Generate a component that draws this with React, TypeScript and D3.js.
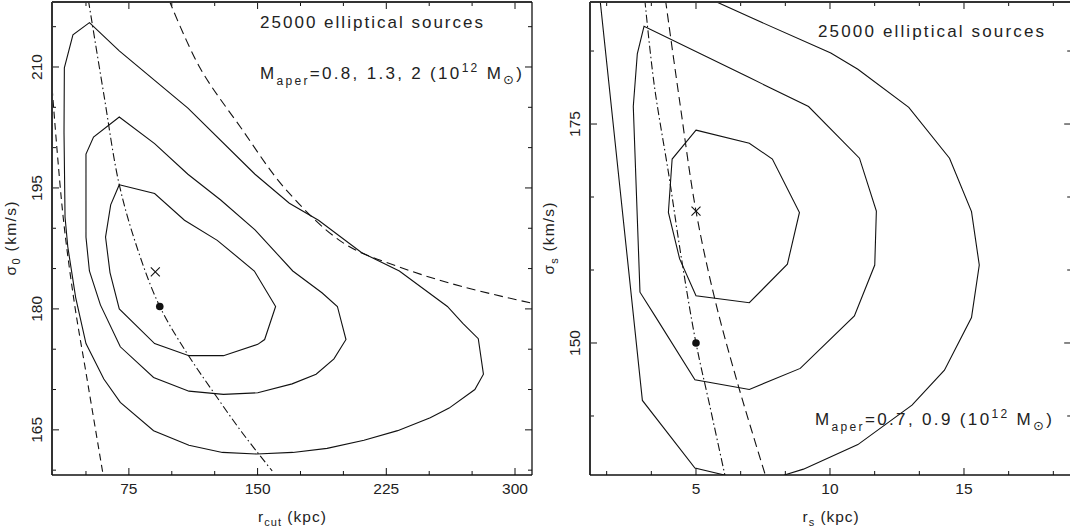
import React from 'react';
import * as d3 from 'd3';

// ---------- Left panel data (r_cut [kpc], sigma_0 [km/s]) ----------
const leftXMajor = [75, 150, 225, 300];
const leftXMinor = [50, 75, 100, 125, 150, 175, 200, 225, 250, 275, 300];
const leftYMajor = [165, 180, 195, 210];
const leftYMinor = [160, 165, 170, 175, 180, 185, 190, 195, 200, 205, 210, 215];

const leftInner: [number, number][] = [
  [69.4, 195.4], [90.0, 194.3], [107.4, 191.0], [126.5, 188.5], [148.1, 184.7],
  [160.5, 180.3], [154.1, 176.2], [150.1, 175.6], [130.1, 174.2], [110.0, 174.2],
  [90.0, 175.7], [69.4, 180.0], [64.0, 184.5], [61.4, 188.9], [64.4, 192.9],
];
const leftMiddle: [number, number][] = [
  [69.4, 203.8], [90.0, 200.5], [109.4, 196.7], [128.5, 193.5], [148.5, 189.8],
  [170.5, 184.7], [187.5, 182.0], [196.5, 180.3], [201.5, 176.2], [194.5, 173.8],
  [184.1, 171.9], [170.1, 170.7], [150.1, 169.6], [130.1, 169.4], [110.0, 169.8],
  [89.4, 171.5], [70.0, 175.3], [58.4, 180.5], [52.0, 184.7], [50.0, 188.9],
  [50.0, 199.2], [54.4, 201.3],
];
const leftOuter: [number, number][] = [
  [52.0, 215.5], [69.4, 212.0], [109.4, 204.9], [148.5, 196.7], [168.5, 193.1],
  [185.5, 191.0], [210.5, 187.0], [232.6, 184.7], [260.6, 180.3], [269.6, 178.2],
  [278.6, 176.3], [281.6, 171.9], [276.6, 170.0], [261.6, 167.7], [250.6, 166.5],
  [231.6, 164.9], [212.0, 163.7], [190.5, 162.7], [170.5, 162.2], [149.5, 162.0],
  [129.5, 162.2], [110.0, 163.1], [89.4, 164.9], [70.0, 168.4], [60.4, 171.3],
  [50.0, 175.7], [44.0, 181.4], [39.4, 187.7], [37.8, 191.4], [37.2, 201.9],
  [37.4, 209.9], [42.4, 214.0],
];
const leftCurveLow: [number, number][] = [
  [30.3, 207.3], [36.7, 191.4], [43.4, 180.5], [50.0, 172.1], [60.0, 159.4],
];
const leftCurveMid: [number, number][] = [
  [51.4, 218.3], [60.4, 206.6], [69.4, 195.4], [80.4, 187.2], [93.0, 180.3],
  [108.4, 174.65], [124.5, 169.6], [140.5, 164.8], [158.5, 159.9],
];
const leftCurveHigh: [number, number][] = [
  [98.4, 218.3], [116.4, 209.9], [140.5, 202.4], [166.5, 194.8], [200.5, 188.1],
  [232.6, 185.2], [268.6, 182.8], [310.0, 180.7],
];
const leftCross: [number, number] = [90.4, 184.6];
const leftDot: [number, number] = [93.0, 180.3];

// ---------- Right panel data (r_s [kpc], sigma_s [km/s]) ----------
const rightXMajor = [5, 10, 15];
const rightXMinor = [5 / 3, 10 / 3, 5, 20 / 3, 25 / 3, 10, 35 / 3, 40 / 3, 15, 50 / 3, 55 / 3];
const rightYMajor = [150, 175];
const rightYMinor = [425 / 3, 150, 475 / 3, 500 / 3, 175, 550 / 3];

const rightInner: [number, number][] = [
  [5.0, 174.3], [6.99, 172.8], [7.85, 171.0], [8.86, 164.9], [8.41, 159.0],
  [6.99, 154.6], [5.0, 155.4], [4.39, 159.6], [3.97, 164.9], [4.11, 171.0],
];
const rightMiddle: [number, number][] = [
  [3.06, 186.15], [2.81, 183.0], [2.66, 177.0], [2.91, 155.8], [3.51, 152.9],
  [4.96, 145.8], [6.99, 144.7], [8.89, 147.1], [10.91, 153.1], [11.67, 158.9],
  [11.73, 165.05], [11.10, 171.1], [9.2, 177.0], [6.99, 180.3],
];
const rightOuterLeft: [number, number][] = [
  [1.42, 189.2], [3.0, 143.44], [4.96, 135.72], [6.06, 134.93],
];
const rightOuterRight: [number, number][] = [
  [8.3, 134.93], [9.01, 135.6], [11.04, 138.4], [13.06, 142.9], [14.27, 146.9],
  [15.28, 152.9], [15.57, 158.9], [15.28, 165.0], [14.46, 171.1], [12.94, 176.9],
  [11.04, 181.25], [10.03, 183.1], [7.05, 187.15], [5.72, 189.0],
];
const rightCurveLow: [number, number][] = [
  [3.09, 189.2], [3.44, 179.5], [3.99, 169.1], [4.46, 159.6], [5.0, 150.0],
  [5.51, 142.9], [6.08, 134.9],
];
const rightCurveHigh: [number, number][] = [
  [3.86, 189.2], [4.39, 177.6], [5.0, 165.05], [5.72, 154.8], [6.61, 144.8],
  [7.59, 134.9],
];
const rightCross: [number, number] = [5.0, 165.05];
const rightDot: [number, number] = [5.0, 150.0];

const FONT = "'Liberation Sans', Arial, sans-serif";
const INK = '#111';

type PanelProps = {
  id: string;
  x0: number; x1: number; y0: number; y1: number;
  xDomain: [number, number]; yDomain: [number, number];
  xMajor: number[]; xMinor: number[]; yMajor: number[]; yMinor: number[];
  closed: [number, number][][];
  open: [number, number][][];
  curves: { pts: [number, number][]; dash: string }[];
  cross: [number, number];
  dot: [number, number];
  children?: React.ReactNode;
  xTitle: React.ReactNode;
  yTitle: React.ReactNode;
  xTitleLen: number;
  yTitleLen: number;
};

function Panel(p: PanelProps) {
  const x = d3.scaleLinear().domain(p.xDomain).range([p.x0, p.x1]);
  const y = d3.scaleLinear().domain(p.yDomain).range([p.y1, p.y0]);
  const lineClosed = d3.line<[number, number]>().x(d => x(d[0])).y(d => y(d[1])).curve(d3.curveLinearClosed);
  const lineOpen = d3.line<[number, number]>().x(d => x(d[0])).y(d => y(d[1]));
  const lineSmooth = d3.line<[number, number]>().x(d => x(d[0])).y(d => y(d[1])).curve(d3.curveCatmullRom.alpha(0.5));
  const MAJ = 7, MIN = 4;
  const cx = x(p.cross[0]), cy = y(p.cross[1]);
  return (
    <g>
      <defs>
        <clipPath id={p.id}>
          <rect x={p.x0} y={p.y0} width={p.x1 - p.x0} height={p.y1 - p.y0} />
        </clipPath>
      </defs>
      <g clipPath={`url(#${p.id})`} fill="none" stroke={INK} strokeWidth={1.1}>
        {p.closed.map((c, i) => <path key={'c' + i} d={lineClosed(c) || ''} />)}
        {p.open.map((c, i) => <path key={'o' + i} d={lineOpen(c) || ''} />)}
        {p.curves.map((c, i) => (
          <path key={'k' + i} d={lineSmooth(c.pts) || ''} strokeDasharray={c.dash} strokeWidth={1.1} />
        ))}
        <path d={`M${cx - 4.5},${cy - 4.5}L${cx + 4.5},${cy + 4.5}M${cx - 4.5},${cy + 4.5}L${cx + 4.5},${cy - 4.5}`} strokeWidth={1.1} />
        <circle cx={x(p.dot[0])} cy={y(p.dot[1])} r={3.8} fill={INK} stroke="none" />
      </g>
      {/* ticks */}
      <g stroke={INK} strokeWidth={1}>
        {p.xMinor.map((v, i) => {
          const len = p.xMajor.some(m => Math.abs(m - v) < 1e-6) ? MAJ : MIN;
          const xx = x(v);
          return (
            <g key={'xt' + i}>
              <line x1={xx} x2={xx} y1={p.y1} y2={p.y1 - len} />
              <line x1={xx} x2={xx} y1={p.y0} y2={p.y0 + len} />
            </g>
          );
        })}
        {p.yMinor.map((v, i) => {
          const len = p.yMajor.some(m => Math.abs(m - v) < 1e-6) ? MAJ : MIN;
          const yy = y(v);
          return (
            <g key={'yt' + i}>
              <line x1={p.x0} x2={p.x0 + len} y1={yy} y2={yy} />
              <line x1={p.x1} x2={p.x1 - len} y1={yy} y2={yy} />
            </g>
          );
        })}
      </g>
      {/* frame */}
      <line x1={p.x0} x2={p.x1} y1={p.y0} y2={p.y0} stroke="#333" strokeWidth={2} />
      <line x1={p.x0} x2={p.x0} y1={p.y0} y2={p.y1} stroke="#333" strokeWidth={2} />
      <line x1={p.x1} x2={p.x1} y1={p.y0} y2={p.y1} stroke={INK} strokeWidth={1.3} />
      <line x1={p.x0} x2={p.x1} y1={p.y1} y2={p.y1} stroke={INK} strokeWidth={1.3} />
      {/* tick labels */}
      <g fontFamily={FONT} fontSize={15.5} fill="#222">
        {p.xMajor.map((v, i) => (
          <text key={'xl' + i} x={x(v)} y={494} textAnchor="middle">{String(v)}</text>
        ))}
        {p.yMajor.map((v, i) => (
          <text key={'yl' + i} transform={`translate(${p.x0 - 10},${y(v)}) rotate(-90)`} textAnchor="middle">{String(v)}</text>
        ))}
      </g>
      {/* axis titles */}
      <g fontFamily={FONT} fontSize={15.5} fill="#222">
        <text x={(p.x0 + p.x1) / 2} y={522} textAnchor="middle" textLength={p.xTitleLen} lengthAdjust="spacing">{p.xTitle}</text>
        <text transform={`translate(${p.x0 - 36},${(p.y0 + p.y1) / 2}) rotate(-90)`} textAnchor="middle" textLength={p.yTitleLen} lengthAdjust="spacing">{p.yTitle}</text>
      </g>
      {p.children}
    </g>
  );
}

export default function App() {
  return (
    <svg width={1070} height={531} style={{ position: 'absolute', left: 0, top: 0, background: '#fff' }}>
      <rect x={0} y={0} width={1070} height={531} fill="#fff" />
      <Panel
        id="clipL"
        x0={52} x1={532} y0={2} y1={475}
        xDomain={[30.2, 309.9]} yDomain={[159.4, 218.06]}
        xMajor={leftXMajor} xMinor={leftXMinor} yMajor={leftYMajor} yMinor={leftYMinor}
        closed={[leftInner, leftMiddle, leftOuter]}
        open={[]}
        curves={[
          { pts: leftCurveLow, dash: '7,4.5' },
          { pts: leftCurveMid, dash: '8,3,1.5,3' },
          { pts: leftCurveHigh, dash: '9,5' },
        ]}
        cross={leftCross} dot={leftDot}
        xTitle={<>r<tspan dy={4} fontSize={11}>cut</tspan><tspan dy={-4}> (kpc)</tspan></>}
        yTitle={<>σ<tspan dy={4} fontSize={11}>0</tspan><tspan dy={-4}> (km/s)</tspan></>}
        xTitleLen={68} yTitleLen={74}
      >
        <g fontFamily={FONT} fill="#222">
          <text x={260} y={28} fontSize={17} textLength={223} lengthAdjust="spacing">25000 elliptical sources</text>
          <text x={260} y={79} fontSize={17} textLength={262} lengthAdjust="spacing">
            M<tspan dy={6} fontSize={12}>aper</tspan><tspan dy={-6}>=0.8, 1.3, 2 (10</tspan><tspan dy={-7} fontSize={12}>12</tspan><tspan dy={7}> M</tspan><tspan dy={5} fontSize={13} fontFamily="'DejaVu Sans', sans-serif">⊙</tspan><tspan dy={-5}>)</tspan>
          </text>
        </g>
      </Panel>
      <Panel
        id="clipR"
        x0={590} x1={1071.2} y0={2} y1={475}
        xDomain={[1.045, 19]} yDomain={[134.93, 188.93]}
        xMajor={rightXMajor} xMinor={rightXMinor} yMajor={rightYMajor} yMinor={rightYMinor}
        closed={[rightInner, rightMiddle]}
        open={[rightOuterLeft, rightOuterRight]}
        curves={[
          { pts: rightCurveLow, dash: '8,3,1.5,3' },
          { pts: rightCurveHigh, dash: '9,5' },
        ]}
        cross={rightCross} dot={rightDot}
        xTitle={<>r<tspan dy={4} fontSize={11}>s</tspan><tspan dy={-4}> (kpc)</tspan></>}
        yTitle={<>σ<tspan dy={4} fontSize={11}>s</tspan><tspan dy={-4}> (km/s)</tspan></>}
        xTitleLen={56} yTitleLen={72}
      >
        <g fontFamily={FONT} fill="#222">
          <text x={818} y={37} fontSize={17} textLength={226} lengthAdjust="spacing">25000 elliptical sources</text>
          <text x={815} y={425} fontSize={17} textLength={237} lengthAdjust="spacing">
            M<tspan dy={6} fontSize={12}>aper</tspan><tspan dy={-6}>=0.7, 0.9 (10</tspan><tspan dy={-7} fontSize={12}>12</tspan><tspan dy={7}> M</tspan><tspan dy={5} fontSize={13} fontFamily="'DejaVu Sans', sans-serif">⊙</tspan><tspan dy={-5}>)</tspan>
          </text>
        </g>
      </Panel>
    </svg>
  );
}
